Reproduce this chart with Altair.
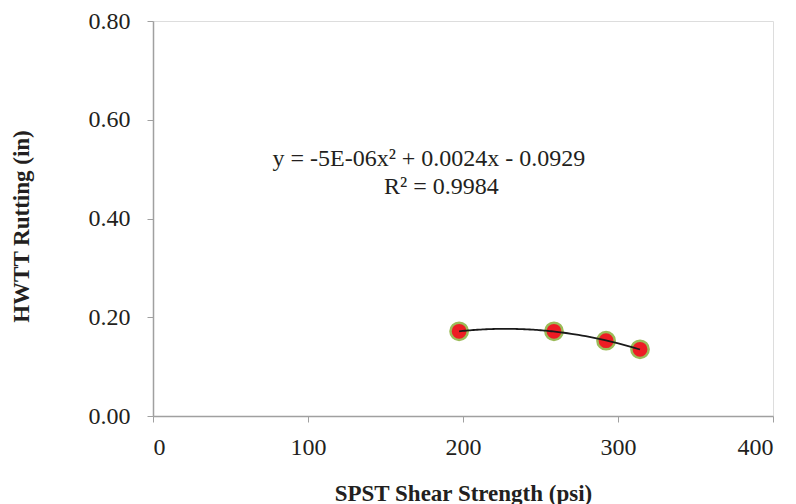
import altair as alt
import pandas as pd

# SPST shear strength (psi) vs. HWTT rut depth (in)
shear_psi = [197.5, 258.7, 292.3, 314.2]
rutting_in = [0.1715, 0.1715, 0.1525, 0.135]

# Trendline label lines (Excel-style)
eq_lines = ["y = -5E-06x\u00b2 + 0.0024x - 0.0929", "R\u00b2 = 0.9984"]
eq_x = [178, 186]
eq_y = [0.521, 0.464]

FONT = "Liberation Serif"
AXIS_GREY = "#a0a0a0"
TEXT = "#231f20"

df = pd.DataFrame({"shear": shear_psi, "rut": rutting_in})
labels = pd.DataFrame({"text": eq_lines, "x": eq_x, "y": eq_y})

x_scale = alt.Scale(domain=[0, 400], nice=False)
y_scale = alt.Scale(domain=[0, 0.8], nice=False)

x_axis = alt.Axis(
    values=[0, 100, 200, 300, 400], format="d",
    title="SPST Shear Strength (psi)", grid=False,
    domainColor=AXIS_GREY, tickColor=AXIS_GREY, tickSize=6, domainWidth=1.5,
    labelFont=FONT, labelFontSize=24, labelColor=TEXT, labelPadding=13,
    titleFont=FONT, titleFontSize=23, titleFontWeight="bold", titleColor=TEXT,
    titleY=77, titleBaseline="middle",
)
y_axis = alt.Axis(
    values=[0, 0.2, 0.4, 0.6, 0.8], format=".2f",
    title="HWTT Rutting (in)", grid=False,
    domainColor=AXIS_GREY, tickColor=AXIS_GREY, tickSize=6, domainWidth=1.5,
    labelFont=FONT, labelFontSize=24, labelColor=TEXT, labelPadding=17,
    titleFont=FONT, titleFontSize=23, titleFontWeight="bold", titleColor=TEXT,
    titleX=-132, titleY=205, titleAngle=-90, titleAlign="center", titleBaseline="middle",
)

base = alt.Chart(df)

points = base.mark_point(
    filled=True, shape="circle", size=300, fill="#ed1c24",
    stroke="#9bbb59", strokeWidth=2.5, opacity=1,
).encode(
    x=alt.X("shear:Q", scale=x_scale, axis=x_axis),
    y=alt.Y("rut:Q", scale=y_scale, axis=y_axis),
)

trend = base.transform_regression(
    "shear", "rut", method="poly", order=2, extent=[min(shear_psi), max(shear_psi)]
).mark_line(color="#1a1a1a", strokeWidth=1.8).encode(
    x=alt.X("shear:Q", scale=x_scale),
    y=alt.Y("rut:Q", scale=y_scale),
)

eq_text = alt.Chart(labels).mark_text(
    font=FONT, fontSize=24, color=TEXT, align="center", baseline="middle",
).encode(
    x=alt.X("x:Q", scale=x_scale),
    y=alt.Y("y:Q", scale=y_scale),
    text="text:N",
)

chart = alt.layer(points, trend, eq_text).properties(
    width=620, height=395,
    autosize=alt.AutoSizeParams(type="none"),
    padding={"left": 153, "top": 21, "right": 23, "bottom": 88},
).configure_view(stroke=None).configure(background="white")

chart.save("out.html", embed_options={"renderer": "svg", "actions": False})
